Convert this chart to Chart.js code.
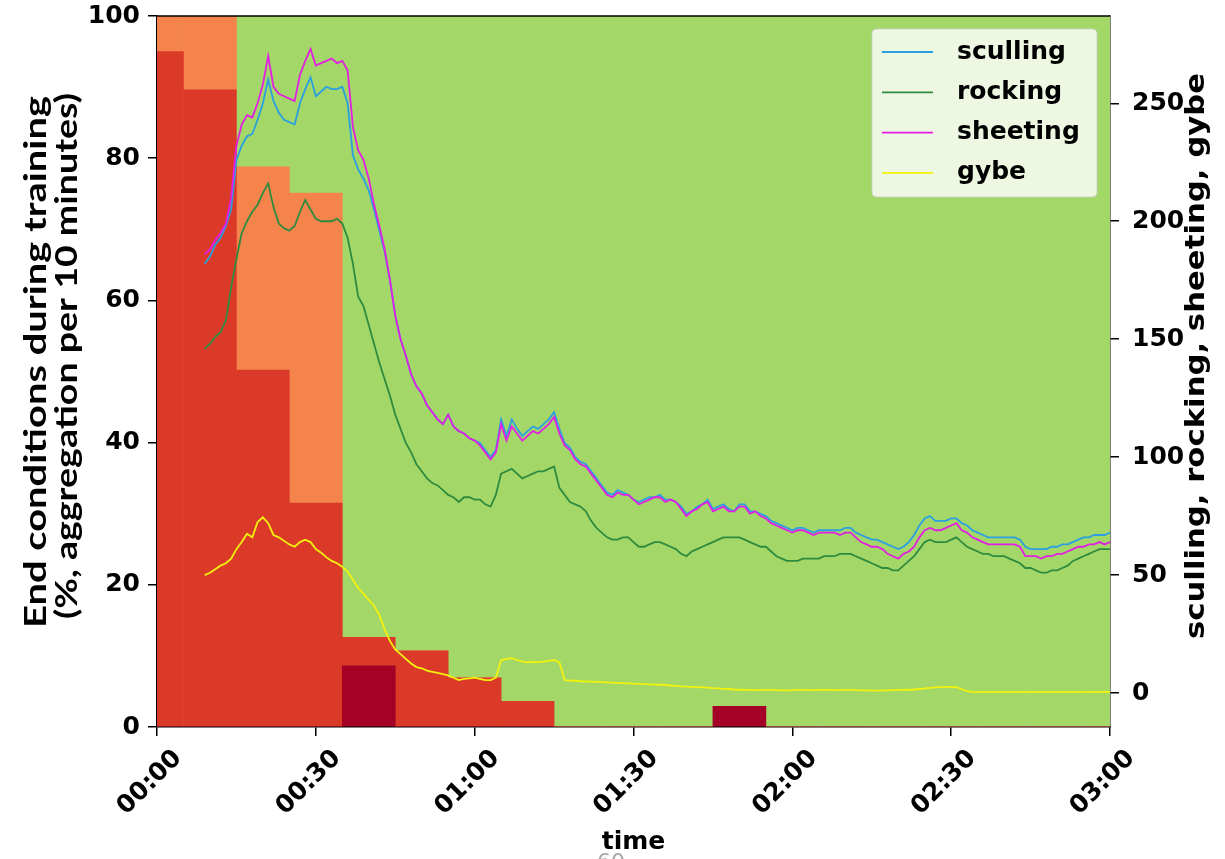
<!DOCTYPE html>
<html><head><meta charset="utf-8">
<script src="https://cdn.jsdelivr.net/npm/chart.js@4/dist/chart.umd.min.js"></script>
<style>html,body{margin:0;padding:0;background:#fff;}canvas{display:block;}</style>
</head><body>
<canvas id="c" width="1225" height="859"></canvas>
<script>
// ---- data ----
const binCenters = [0,10,20,30,40,50,60,70,80,90,100,110,120,130,140,150,160,170,180];
const endDarkRed = [0,0,0,0,8.6,0,0,0,0,0,0,2.9,0,0,0,0,0,0,0];
const endRed     = [95,89.6,50.2,31.5,4.0,10.7,6.9,3.6,0,0,0,0,0,0,0,0,0,0,0];
const endOrange  = [5,10.4,28.6,43.6,0,0,0,0,0,0,0,0,0,0,0,0,0,0,0];
const endGreen   = [0,0,21.2,24.9,87.4,89.3,93.1,96.4,100,100,100,97.1,100,100,100,100,100,100,100];

const tickMinutes = [0,30,60,90,120,150,180];
const timeTickLabels = ['00:00','00:30','01:00','01:30','02:00','02:30','03:00'];

const times = [
 9,10,11,12,13,14,15,16,17,18,
 19,20,21,22,23,24,25,26,27,28,
 29,30,31,32,33,34,35,36,37,38,
 39,40,41,42,43,44,45,46,47,48,
 49,50,51,52,53,54,55,56,57,58,
 59,60,61,62,63,64,65,66,67,68,
 69,70,71,72,73,74,75,76,77,78,
 79,80,81,82,83,84,85,86,87,88,
 89,90,91,92,93,94,95,96,97,98,
 99,100,101,102,103,104,105,106,107,108,
 109,110,111,112,113,114,115,116,117,118,
 119,120,121,122,123,124,125,126,127,128,
 129,130,131,132,133,134,135,136,137,138,
 139,140,141,142,143,144,145,146,147,148,
 149,150,151,152,153,154,155,156,157,158,
 159,160,161,162,163,164,165,166,167,168,
 169,170,171,172,173,174,175,176,177,178,
 179,180];

const sculling = [
 182,185,190,193,198,205,226,232,236,237,
 243,250,260,251,246,243,242,241,250,256,
 261,253,255,257,256,256,257,250,228,222,
 218,213,205,196,187,175,160,150,143,135,
 130,127,122,119,116,114,118,113,111,110,
 108,107,106,103,100,103,116,109,116,112,
 109,111,113,112,114,116,119,112,106,104,
 100,98,97,94,91,88,85,84,86,85,
 84,82,81,82,83,83,84,82,82,81,
 79,76,77,79,80,82,78,79,80,78,
 77,80,80,77,77,76,75,73,72,71,
 70,69,70,70,69,68,69,69,69,69,
 69,70,70,68,67,66,65,65,64,63,
 62,61,62,64,67,71,74,75,73,73,
 73,74,74,72,71,69,68,67,66,66,
 66,66,66,66,65,62,61,61,61,61,
 62,62,63,63,64,65,66,66,67,67,
 67,68];

const rocking = [
 146,148,151,153,158,172,184,195,200,204,
 207,212,216,206,199,197,196,198,204,209,
 205,201,200,200,200,201,199,193,182,168,
 164,156,148,140,133,126,118,112,106,102,
 97,94,91,89,88,86,84,83,81,83,
 83,82,82,80,79,84,93,94,95,93,
 91,92,93,94,94,95,96,87,84,81,
 80,79,77,73,70,68,66,65,65,66,
 66,64,62,62,63,64,64,63,62,61,
 59,58,60,61,62,63,64,65,66,66,
 66,66,65,64,63,62,62,60,58,57,
 56,56,56,57,57,57,57,58,58,58,
 59,59,59,58,57,56,55,54,53,53,
 52,52,54,56,58,61,64,65,64,64,
 64,65,66,64,62,61,60,59,59,58,
 58,58,57,56,55,53,53,52,51,51,
 52,52,53,54,56,57,58,59,60,61,
 61,61];

const sheeting = [
 186,188,192,195,199,210,232,241,245,244,
 250,258,270,257,254,253,252,251,262,268,
 273,266,267,268,269,267,268,264,240,230,
 226,218,207,198,188,175,160,150,143,135,
 130,127,122,119,116,114,118,113,111,110,
 108,107,105,102,99,102,114,107,113,110,
 107,109,111,110,112,114,117,110,105,103,
 99,97,96,93,90,87,84,83,85,84,
 84,82,80,81,82,83,83,81,82,81,
 78,75,77,78,80,81,77,78,79,77,
 77,79,79,76,77,75,74,72,71,70,
 69,68,69,69,68,67,68,68,68,68,
 67,68,68,66,64,63,62,62,61,59,
 58,57,59,60,62,66,69,70,69,69,
 70,71,72,69,68,66,65,64,63,63,
 63,63,63,63,62,58,58,58,57,58,
 58,59,59,60,61,62,62,63,63,64,
 63,64];

const gybe = [
 50,51,52.5,54,55,57,61,64,67.5,66,
 72.5,74.5,72,67,66,64.5,63,62,64,65,
 64,61,59.5,57.5,56,55,53.5,51.5,48,44.5,
 42,39.5,37,33,27,22,18.5,16.5,14.5,12.5,
 11,10.5,9.5,9,8.5,8,7.5,6.5,5.5,6,
 6.2,6.5,6,5.5,5.5,6.5,14,14.5,14.8,14,
 13.3,13,13.2,13.1,13.3,13.6,14,13,5.5,5.3,
 5.2,5,4.9,4.8,4.7,4.6,4.5,4.4,4.3,4.2,
 4.1,4,3.9,3.8,3.7,3.6,3.5,3.4,3.2,3,
 2.8,2.7,2.6,2.5,2.4,2.3,2.1,2,1.8,1.7,
 1.5,1.4,1.3,1.3,1.2,1.2,1.3,1.3,1.2,1.1,
 1.1,1.2,1.3,1.3,1.2,1.2,1.3,1.3,1.3,1.2,
 1.2,1.3,1.3,1.2,1.1,1.1,1,1,1.1,1.1,
 1.2,1.3,1.3,1.4,1.5,1.7,2,2.2,2.4,2.5,
 2.6,2.6,2.5,1.6,0.8,0.5,0.4,0.4,0.4,0.4,
 0.4,0.5,0.5,0.4,0.4,0.4,0.4,0.4,0.4,0.4,
 0.4,0.4,0.4,0.4,0.4,0.4,0.4,0.5,0.5,0.5,
 0.5,0.5];

const leftTitle = ['End conditions during training', '(%, aggregation per 10 minutes)'];
const rightTitle = 'sculling, rocking, sheeting, gybe';
const xTitle = 'time';

// ---- chart ----
const FONT = 'DejaVu Sans';
const tickFont = {family: FONT, weight: 'bold', size: 25};
const pts = (xs, ys) => xs.map((x, i) => ({x: x, y: ys[i]}));

function barSet(label, vals, color) {
  return {type: 'bar', label, data: pts(binCenters, vals), backgroundColor: color, borderWidth: 0,
          barPercentage: 1, categoryPercentage: 1, yAxisID: 'y', xAxisID: 'x', order: 10};
}
function lineSet(label, vals, color, order) {
  return {type: 'line', label, data: pts(times, vals), borderColor: color, backgroundColor: color,
          borderWidth: 1.8, pointRadius: 0, tension: 0, fill: false, yAxisID: 'y2', xAxisID: 'x', order};
}

function stretchedText(ctx, text, x, y, font, targetLen) {
  ctx.save();
  ctx.font = font;
  const w = ctx.measureText(text).width;
  ctx.translate(x, y); ctx.rotate(-Math.PI / 2); ctx.scale(targetLen / w, 1);
  ctx.textAlign = 'center'; ctx.textBaseline = 'middle'; ctx.fillStyle = '#000';
  ctx.fillText(text, 0, 0);
  ctx.restore();
}

const decorPlugin = {
  id: 'customDecor',
  afterDraw(chart) {
    const ctx = chart.ctx, a = chart.chartArea;
    ctx.save();
    // top spine
    ctx.strokeStyle = '#000'; ctx.lineWidth = 1.5;
    ctx.beginPath(); ctx.moveTo(a.left, a.top); ctx.lineTo(a.right, a.top); ctx.stroke();
    // legend
    const bx = 872, by = 29, bw = 225, bh = 168, r = 5;
    ctx.beginPath();
    ctx.moveTo(bx + r, by); ctx.lineTo(bx + bw - r, by); ctx.quadraticCurveTo(bx + bw, by, bx + bw, by + r);
    ctx.lineTo(bx + bw, by + bh - r); ctx.quadraticCurveTo(bx + bw, by + bh, bx + bw - r, by + bh);
    ctx.lineTo(bx + r, by + bh); ctx.quadraticCurveTo(bx, by + bh, bx, by + bh - r);
    ctx.lineTo(bx, by + r); ctx.quadraticCurveTo(bx, by, bx + r, by); ctx.closePath();
    ctx.fillStyle = 'rgba(255,255,255,0.8)'; ctx.fill();
    ctx.strokeStyle = 'rgba(204,204,204,0.8)'; ctx.lineWidth = 1; ctx.stroke();
    const lines = chart.data.datasets.filter(d => d.type === 'line');
    ctx.font = 'bold 25px "' + FONT + '"';
    ctx.textBaseline = 'middle'; ctx.textAlign = 'left';
    lines.forEach((d, i) => {
      const y = 52 + i * 40.3;
      ctx.strokeStyle = d.borderColor; ctx.lineWidth = 1.8;
      ctx.beginPath(); ctx.moveTo(882, y); ctx.lineTo(933, y); ctx.stroke();
      ctx.fillStyle = '#000';
      ctx.fillText(d.label, 957, y);
    });
    ctx.restore();
    // axis titles (read bottom to top)
    stretchedText(ctx, leftTitle[0], 36, 362, 'bold 30px Lato', 532);
    stretchedText(ctx, leftTitle[1], 67, 356, 'bold 30px Lato', 526);
    stretchedText(ctx, rightTitle, 1197, 356, 'bold 26px "' + FONT + '"', 566);
    // page number fragment at the bottom
    ctx.save();
    ctx.font = '22px "' + FONT + '"'; ctx.fillStyle = '#a8a8a8'; ctx.textAlign = 'center';
    ctx.textBaseline = 'alphabetic';
    ctx.fillText('60', 611, 869);
    ctx.restore();
  }
};

const axisGrid = {drawOnChartArea: false, drawTicks: true, tickLength: 9, color: '#000', lineWidth: 1.5, offset: false};
const axisBorder = {display: true, color: '#000', width: 1.5};
const noPad = s => { s.paddingTop = 0; s.paddingBottom = 0; s.paddingLeft = 0; s.paddingRight = 0; };

new Chart(document.getElementById('c'), {
  type: 'bar',
  data: {
    datasets: [
      lineSet('sculling', sculling, '#2b9fe0', 3),
      lineSet('rocking', rocking, '#2e8b3e', 2),
      lineSet('sheeting', sheeting, '#e31ee3', 1),
      lineSet('gybe', gybe, '#f2f20c', 0),
      barSet('end 1', endDarkRed, '#a50026'),
      barSet('end 2', endRed, '#dc3a28'),
      barSet('end 3', endOrange, '#f5844c'),
      barSet('end 4', endGreen, '#a3d869')
    ]
  },
  options: {
    responsive: false,
    devicePixelRatio: 1,
    animation: false,
    layout: {padding: {top: 16, left: 0, right: 0, bottom: 0}},
    plugins: {legend: {display: false}, tooltip: {enabled: false}},
    scales: {
      x: {
        type: 'linear', min: 0, max: 180, offset: false, stacked: true,
        afterBuildTicks: s => { s.ticks = tickMinutes.map(v => ({value: v})); },
        ticks: {autoSkip: false, minRotation: 45, maxRotation: 45, labelOffset: 21, padding: 8,
                color: '#000', font: tickFont,
                callback: v => timeTickLabels[tickMinutes.indexOf(v)]},
        grid: axisGrid, border: axisBorder,
        title: {display: true, text: xTitle, color: '#000', font: tickFont, padding: {top: 0, bottom: 2}},
        afterFit: s => { s.height = 132; noPad(s); }
      },
      y: {
        position: 'left', min: 0, max: 100, stacked: true,
        afterBuildTicks: s => { s.ticks = [0,20,40,60,80,100].map(v => ({value: v})); },
        ticks: {padding: 8, color: '#000', font: tickFont},
        grid: axisGrid, border: axisBorder,
        afterFit: s => { s.width = 157; noPad(s); }
      },
      y2: {
        position: 'right', min: -14.4, max: 287,
        afterBuildTicks: s => { s.ticks = [0,50,100,150,200,250].map(v => ({value: v})); },
        ticks: {padding: 13, color: '#000', font: tickFont},
        grid: axisGrid, border: axisBorder,
        afterFit: s => { s.width = 115; noPad(s); }
      }
    }
  },
  plugins: [decorPlugin]
});
</script>
</body></html>
